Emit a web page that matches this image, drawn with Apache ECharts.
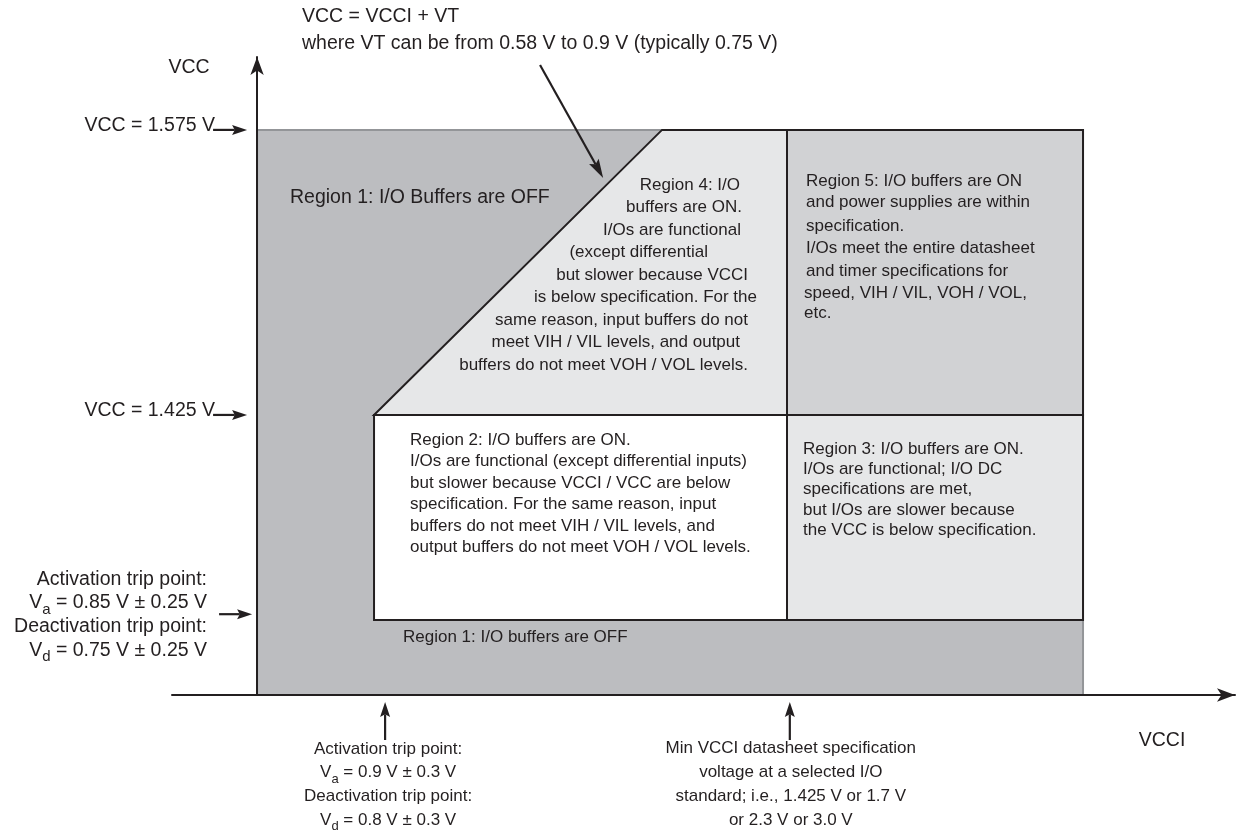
<!DOCTYPE html>
<html><head><meta charset="utf-8">
<script src="https://cdn.jsdelivr.net/npm/echarts@6/dist/echarts.min.js"></script>
<style>html,body{margin:0;padding:0;background:#fff}#c{width:1245px;height:832px}</style>
</head><body><div id="c"></div>
<script>
// Schematic units: x = VCCI (0 at the VCC axis, 100 = right edge of the shaded area), y = VCC (0 at VCCI axis, 100 = VCC 1.575 V)
const region1 = [[0, 0], [100, 0], [100, 100], [0, 100]];
const region4 = [[14.16, 49.56], [49.03, 100], [64.16, 100], [64.16, 49.56]];
const region5 = [[64.16, 49.56], [100, 49.56], [100, 100], [64.16, 100]];
const region2 = [[14.16, 13.27], [64.16, 13.27], [64.16, 49.56], [14.16, 49.56]];
const region3 = [[64.16, 13.27], [100, 13.27], [100, 49.56], [64.16, 49.56]];

const vccLevels = [100, 49.56];
const vccLevelLabels = ['VCC = 1.575 V', 'VCC = 1.425 V'];
const vccTripLevel = 14.3;
const vcciMarks = [15.5, 64.5];
const vtArrow = [[34.26, 111.5], [41.9, 91.5]];

const topNote = ['VCC = VCCI + VT', 'where VT can be from 0.58 V to 0.9 V (typically 0.75 V)'];
const vccTripText = ['Activation trip point:', ['V', 'a', ' = 0.85 V \u00b1 0.25 V'], 'Deactivation trip point:', ['V', 'd', ' = 0.75 V \u00b1 0.25 V']];
const vcciTripText = ['Activation trip point:', ['V', 'a', ' = 0.9 V \u00b1 0.3 V'], 'Deactivation trip point:', ['V', 'd', ' = 0.8 V \u00b1 0.3 V']];
const vcciSpecText = ['Min VCCI datasheet specification', 'voltage at a selected I/O', 'standard; i.e., 1.425 V or 1.7 V', 'or 2.3 V or 3.0 V'];
const region1TopText = 'Region 1: I/O Buffers are OFF';
const region1BottomText = 'Region 1: I/O buffers are OFF';
const region2Text = ['Region 2: I/O buffers are ON.', 'I/Os are functional (except differential inputs)', 'but slower because VCCI / VCC are below', 'specification. For the same reason, input', 'buffers do not meet VIH / VIL levels, and', 'output buffers do not meet VOH / VOL levels.'];
const region3Text = ['Region 3: I/O buffers are ON.', 'I/Os are functional; I/O DC', 'specifications are met,', 'but I/Os are slower because', 'the VCC is below specification.'];
const region4Text = ['Region 4: I/O', 'buffers are ON.', 'I/Os are functional', '(except differential', 'but slower because VCCI', 'is below specification. For the', 'same reason, input buffers do not', 'meet VIH / VIL levels, and output', 'buffers do not meet VOH / VOL levels.'];
const region5Text = ['Region 5: I/O buffers are ON', 'and power supplies are within', 'specification.', 'I/Os meet the entire datasheet', 'and timer specifications for', 'speed, VIH / VIL, VOH / VOL,', 'etc.'];

// ---- styling ----
const INK = '#231f20';
const FONT = '"Liberation Sans", Arial, Helvetica, sans-serif';
const regions = [region1, region4, region5, region2, region3];
const regionStyles = [
  { fill: '#bcbdc0', stroke: '#939598', lineWidth: 2 },
  { fill: '#e6e7e8', stroke: INK, lineWidth: 2 },
  { fill: '#d1d2d4', stroke: INK, lineWidth: 2 },
  { fill: '#ffffff', stroke: INK, lineWidth: 2 },
  { fill: '#e6e7e8', stroke: INK, lineWidth: 2 }
];

const chart = echarts.init(document.getElementById('c'));
const axisCommon = {
  type: 'value',
  axisLine: { show: true, onZero: true, symbol: ['none', 'arrow'], symbolSize: [10, 18], lineStyle: { color: INK, width: 2 } },
  axisTick: { show: false }, axisLabel: { show: false }, splitLine: { show: false }, z: 50
};
chart.setOption({
  animation: false,
  grid: { left: 172, right: 10, top: 57, bottom: 137, containLabel: false },
  xAxis: Object.assign({}, axisCommon, { min: -10.3, max: 118.4 }),
  yAxis: Object.assign({}, axisCommon, { min: 0, max: 112.9 }),
  series: [{
    type: 'custom',
    data: regions.map((r, i) => [i]),
    renderItem: function (params, api) {
      const i = params.dataIndex;
      const pts = regions[i].map(p => api.coord(p));
      return { type: 'polygon', shape: { points: pts }, style: Object.assign({}, regionStyles[i]) };
    }
  }]
});

function px(p) { return chart.convertToPixel({ gridIndex: 0 }, p); }
function txt(text, x, y, size, align) {
  return { type: 'text', x: x, y: y, z: 100, silent: true,
    style: { text: text, fill: INK, fontSize: size, fontFamily: FONT, align: align || 'left', verticalAlign: 'middle' } };
}
function subTxt(parts, x, y, size, subSize, align) {
  const L = size + 8.5;
  return { type: 'text', x: x, y: y, z: 100, silent: true,
    style: {
      text: '{n|' + parts[0] + '}{s|' + parts[1] + '}{n|' + parts[2] + '}',
      align: align || 'left', verticalAlign: 'middle',
      rich: {
        n: { fill: INK, fontSize: size, fontFamily: FONT, lineHeight: L },
        s: { fill: INK, fontSize: subSize, fontFamily: FONT, lineHeight: subSize, verticalAlign: 'bottom' }
      }
    } };
}
function block(lines, x, y0, dy, size, subSize, align) {
  return lines.map((l, i) => Array.isArray(l) ? subTxt(l, x, y0 + dy * i, size, subSize, align) : txt(l, x, y0 + dy * i, size, align));
}
function arrow(from, to, headLen, headW) {
  const dx = to[0] - from[0], dy = to[1] - from[1];
  const len = Math.sqrt(dx * dx + dy * dy);
  const ux = dx / len, uy = dy / len, nx = -uy, ny = ux;
  const back = [to[0] - ux * headLen, to[1] - uy * headLen];
  const notch = [to[0] - ux * headLen * 0.82, to[1] - uy * headLen * 0.82];
  return [
    { type: 'line', z: 100, silent: true, shape: { x1: from[0], y1: from[1], x2: notch[0], y2: notch[1] }, style: { stroke: INK, lineWidth: 2.2 } },
    { type: 'polygon', z: 100, silent: true, shape: { points: [to, [back[0] + nx * headW / 2, back[1] + ny * headW / 2], notch, [back[0] - nx * headW / 2, back[1] - ny * headW / 2]] }, style: { fill: INK } }
  ];
}

let g = [];
// axis titles
g.push(txt('VCC', 189, 68, 19.5, 'center'));
g.push(txt('VCCI', 1162, 741, 19.5, 'center'));
// top note
g = g.concat(block(topNote, 302, 17, 27, 19.5, 15, 'left'));
g = g.concat(arrow(px(vtArrow[0]), px(vtArrow[1]), 19, 11));
// VCC level markers
vccLevels.forEach((v, i) => {
  const p = px([0, v]);
  g.push(txt(vccLevelLabels[i], 215, p[1] - 4, 19.5, 'right'));
  g = g.concat(arrow([p[0] - 44, p[1]], [p[0] - 10, p[1]], 15, 10));
});
const tp = px([0, vccTripLevel]);
g = g.concat(arrow([tp[0] - 38, tp[1]], [tp[0] - 5, tp[1]], 15, 10));
g = g.concat(block(vccTripText, 207, tp[1] - 35, 23.7, 19.5, 15, 'right'));
// VCCI markers
vcciMarks.forEach((v) => {
  const p = px([v, 0]);
  g = g.concat(arrow([p[0], p[1] + 45], [p[0], p[1] + 7], 15, 10));
});
g = g.concat(block(vcciTripText, px([vcciMarks[0], 0])[0] + 3, 749, 23.7, 17, 13, 'center'));
g = g.concat(block(vcciSpecText, px([vcciMarks[1], 0])[0] + 1, 748, 24, 17, 13, 'center'));
// region texts
g.push(txt(region1TopText, 290, 198, 19.5, 'left'));
g.push(txt(region1BottomText, 403, 637, 17, 'left'));
g = g.concat(block(region2Text, 410, 440, 21.5, 17, 13, 'left'));
g = g.concat(block(region3Text, 803, 449, 20.3, 17, 13, 'left'));
const r5y = [181, 202, 226, 248, 271, 293, 313];
region5Text.forEach((l, i) => g.push(txt(l, i >= 5 ? 804 : 806, r5y[i], 17, 'left')));
const r4right = [740, 742, 741, 708, 748, 757, 748, 740, 748];
region4Text.forEach((l, i) => g.push(txt(l, r4right[i], 185 + 22.5 * i, 17, 'right')));

chart.setOption({ graphic: g });
</script>
</body></html>
